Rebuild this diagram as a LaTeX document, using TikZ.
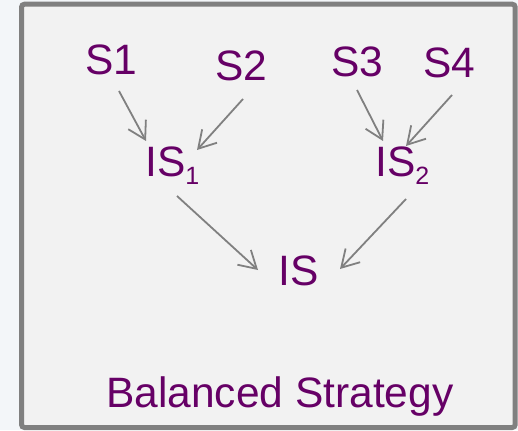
\documentclass[tikz,border=0pt]{standalone}
\usepackage{fontspec}
\setmainfont{Liberation Sans}
\usetikzlibrary{arrows.meta}
\definecolor{textpurple}{RGB}{102,0,102}
\definecolor{framegray}{RGB}{128,128,128}
\definecolor{panelfill}{RGB}{242,242,242}
\definecolor{pagebg}{RGB}{243,246,249}
\definecolor{arrowgray}{RGB}{128,128,128}
\newcommand{\subidx}[1]{\raisebox{-8pt}{\fontsize{25}{29}\selectfont #1}}
\begin{document}
\begin{tikzpicture}[x=1pt,y=-1pt,
  lbl/.style={anchor=base west,inner sep=0pt,text=textpurple,
    font=\fontsize{42.5}{48}\selectfont},
  arr/.style={draw=arrowgray,line width=1.8pt,
    -{Straight Barb[length=17pt,width=20pt,line width=1.8pt]}}]
  % page background and the framed panel
  \fill[pagebg] (0,0) rectangle (518,430);
  \useasboundingbox (0,0) rectangle (518,430);
  \draw[framegray,fill=panelfill,line width=5pt,rounded corners=3pt]
    (21.5,4.2) rectangle (515.2,427.5);
  % source nodes
  \node[lbl] (s1) at (85,75) {S1};
  \node[lbl] (s2) at (215,81) {S2};
  \node[lbl] (s3) at (331,77) {S3};
  \node[lbl] (s4) at (423,78) {S4};
  % intermediate nodes
  \node[lbl] (is1) at (145,177) {IS\subidx{1}};
  \node[lbl] (is2) at (375,177) {IS\subidx{2}};
  % final node
  \node[lbl] (is) at (278,285) {IS};
  % caption
  \node[lbl] (cap) at (106,407) {Balanced Strategy};
  % connectors
  \draw[arr] ([shift={(34,16)}]s1.base west) -- ([shift={(1,-36)}]is1.base west);
  \draw[arr] ([shift={(28,18)}]s2.base west) -- ([shift={(52,-27)}]is1.base west);
  \draw[arr] ([shift={(26,13)}]s3.base west) -- ([shift={(8,-36)}]is2.base west);
  \draw[arr] ([shift={(29,17)}]s4.base west) -- ([shift={(31,-31)}]is2.base west);
  \draw[arr] ([shift={(32,19)}]is1.base west) -- ([shift={(-20,-15)}]is.base west);
  \draw[arr] ([shift={(31,22)}]is2.base west) -- ([shift={(62,-16)}]is.base west);
\end{tikzpicture}
\end{document}
